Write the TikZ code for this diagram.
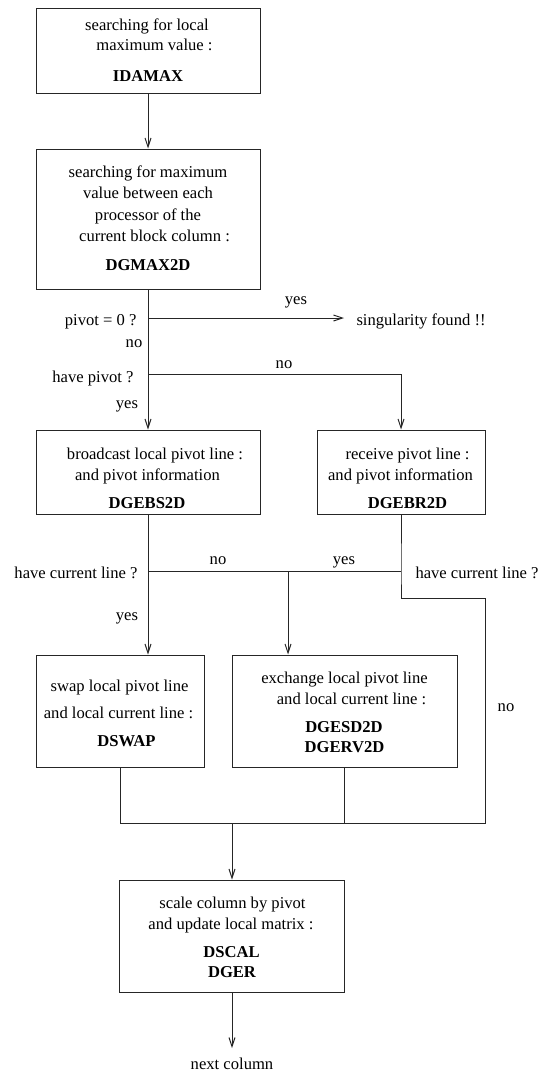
\documentclass[tikz,border=0pt]{standalone}
\usepackage{fontspec}
\setmainfont{Liberation Serif}
\usetikzlibrary{arrows.meta}
\begin{document}
\begin{tikzpicture}[x=1pt,y=-1pt,line width=1pt,draw=black!85,
  box/.style={draw,rectangle,inner sep=0pt},
  txt/.style={inner sep=0pt,text height=12pt,text depth=4pt,font=\fontsize{16.6}{20}\selectfont},
  bt/.style={inner sep=0pt,text height=12pt,text depth=4pt,font=\fontsize{16.6}{20}\selectfont\bfseries},
  arr/.style={-{Straight Barb[length=9pt,width=6pt]}}]
\useasboundingbox (0,0) rectangle (552,1074);
% boxes
\node[box,minimum width=224pt,minimum height=85pt] (b1) at (148,50.5) {};
\node[box,minimum width=224pt,minimum height=140pt] (b2) at (148,219) {};
\node[box,minimum width=224pt,minimum height=84pt] (b3) at (148,472) {};
\node[box,minimum width=168pt,minimum height=84pt] (b4) at (401,472) {};
\node[box,minimum width=168pt,minimum height=112pt] (b5) at (120,711) {};
\node[box,minimum width=225pt,minimum height=112pt] (b6) at (344.5,711) {};
\node[box,minimum width=225pt,minimum height=112pt] (b7) at (232,936) {};
% box texts
\node[txt] (t11) at (147,26) {searching for local};
\node[txt] (t12) at (154.5,46) {maximum value :};
\node[bt] (t13) at (148,77.5) {IDAMAX};
\node[txt] (t21) at (148,173) {searching for maximum};
\node[txt] (t22) at (148,194) {value between each};
\node[txt] (t23) at (148,216) {processor of the};
\node[txt] (t24) at (154.5,237) {current block column :};
\node[bt] (t25) at (148,266.5) {DGMAX2D};
\node[txt] (t31) at (155,455) {broadcast local pivot line :};
\node[txt] (t32) at (147.5,476) {and pivot information};
\node[bt] (t33) at (147,504.5) {DGEBS2D};
\node[txt] (t41) at (407.5,455) {receive pivot line :};
\node[txt] (t42) at (400.5,476) {and pivot information};
\node[bt] (t43) at (407.5,504.5) {DGEBR2D};
\node[txt] (t51) at (119.5,687) {swap local pivot line};
\node[txt] (t52) at (118.5,714) {and local current line :};
\node[bt] (t53) at (126.5,742.5) {DSWAP};
\node[txt] (t61) at (344.5,679) {exchange local pivot line};
\node[txt] (t62) at (351.5,700) {and local current line :};
\node[bt] (t63) at (344,728.5) {DGESD2D};
\node[bt] (t64) at (344.5,748.5) {DGERV2D};
\node[txt] (t71) at (232.5,904) {scale column by pivot};
\node[txt] (t72) at (231,925) {and update local matrix :};
\node[bt] (t73) at (231.5,953.5) {DSCAL};
\node[bt] (t74) at (232,973.5) {DGER};
% free labels
\node[txt] (yes1) at (296,300) {yes};
\node[txt,anchor=west] (sing) at (356,321) {singularity found !!};
\node[txt,anchor=east] (piv0) at (137,321) {pivot = 0 ?};
\node[txt] (no1) at (134,343) {no};
\node[txt,anchor=east] (havp) at (134,378) {have pivot ?};
\node[txt] (no2) at (284,364) {no};
\node[txt] (yes2) at (127,404) {yes};
\node[txt,anchor=east] (hcl1) at (138,574) {have current line ?};
\node[txt] (no3) at (218,560) {no};
\node[txt] (yes3) at (344,560) {yes};
\node[txt,anchor=west] (hcl2) at (415,574) {have current line ?};
\node[txt] (yes4) at (127,616) {yes};
\node[txt] (no4) at (506,707) {no};
\node[txt] (next) at (232,1065) {next column};
% junctions
\coordinate (p1) at (148,318);
\coordinate (sgtip) at (344,318);
\coordinate (p2) at (148,374);
\coordinate (q2) at (401,374);
\coordinate (p3) at (148,571);
\coordinate (p5) at (288,571);
\coordinate (p4) at (401,571);
\coordinate (r1) at (401,598);
\coordinate (r2) at (485,598);
\coordinate (m1) at (120,823);
\coordinate (m2) at (232,823);
\coordinate (m3) at (344.5,823);
\coordinate (m4) at (485,823);
\coordinate (endc) at (232,1048);
% connectors
\draw[arr] (b1.south) -- (b2.north);
\draw (b2.south) -- (p1);
\draw[arr] (p1) -- (sgtip);
\draw (p1) -- (p2);
\draw[arr] (p2) -- (b3.north);
\draw[arr] (p2) -- (q2) -- (b4.north);
\draw (b3.south) -- (p3);
\draw[arr] (p3) -- (p3 |- b5.north);
\draw (p3) -- (p4);
\draw (b4.south) -- (p4) -- (r1) -- (r2) -- (m4) -- (m1) -- (b5.south);
\draw[arr] (p5) -- (p5 |- b6.north);
\draw (b6.south) -- (m3);
\draw[arr] (m2) -- (b7.north);
\draw[arr] (b7.south) -- (endc);
\end{tikzpicture}
\end{document}
